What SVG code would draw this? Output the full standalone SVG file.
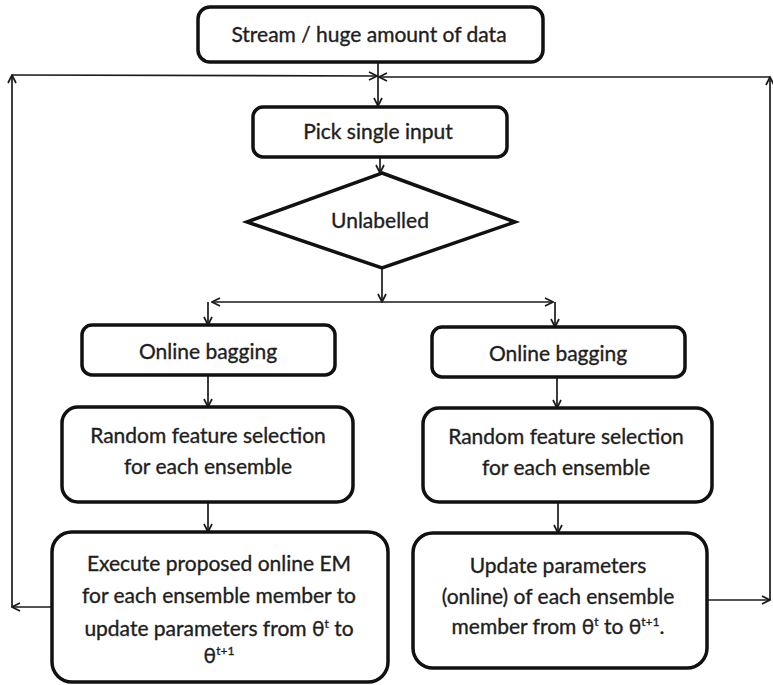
<svg xmlns="http://www.w3.org/2000/svg" width="773" height="685" viewBox="0 0 773 685">
  <style>
    .box { fill: #ffffff; stroke: #111111; stroke-width: 3.5; }
    .lbl { font-family: Lato, "Open Sans", sans-serif; font-size: 21px; fill: #1e1e1e; stroke: #1e1e1e; stroke-width: 0.35; text-anchor: middle; }
    .sup { font-size: 12px; }
    .wire { fill: none; stroke: #1a1a1a; stroke-width: 1.7; marker-end: url(#arrow); }
  </style>
  <defs>
    <marker id="arrow" viewBox="0 0 10 10" refX="9" refY="5" markerWidth="10" markerHeight="10" markerUnits="userSpaceOnUse" orient="auto">
      <path d="M1,1 L9,5 L1,9" fill="none" stroke="#1a1a1a" stroke-width="1.7"/>
    </marker>
  </defs>

  <rect width="773" height="685" fill="#ffffff"/>

  <g id="connectors">
    <!-- source to picker -->
    <line class="wire" x1="378" y1="62" x2="378" y2="106"/>
    <!-- left feedback loop -->
    <line class="wire" x1="52" y1="607" x2="12" y2="607"/>
    <line class="wire" x1="12" y1="607" x2="12" y2="75"/>
    <line class="wire" x1="12" y1="75" x2="377" y2="76"/>
    <!-- right feedback loop -->
    <line class="wire" x1="707" y1="600" x2="770" y2="600"/>
    <line class="wire" x1="770" y1="600" x2="770" y2="77"/>
    <line class="wire" x1="770" y1="77" x2="379" y2="77"/>
    <!-- picker to decision -->
    <line class="wire" x1="380" y1="143" x2="380" y2="173"/>
    <!-- decision to split -->
    <line class="wire" x1="382" y1="268" x2="382" y2="302"/>
    <line class="wire" x1="382" y1="302" x2="212" y2="302"/>
    <line class="wire" x1="382" y1="302" x2="553" y2="302"/>
    <line class="wire" x1="208" y1="302" x2="208" y2="325"/>
    <line class="wire" x1="555" y1="302" x2="555" y2="327"/>
    <!-- left branch -->
    <line class="wire" x1="208" y1="375" x2="208" y2="407"/>
    <line class="wire" x1="208" y1="502" x2="208" y2="532"/>
    <!-- right branch -->
    <line class="wire" x1="557" y1="377" x2="557" y2="408"/>
    <line class="wire" x1="558" y1="502" x2="558" y2="533"/>
  </g>

  <g id="stream">
    <rect class="box" x="198" y="7" width="345" height="55" rx="12"/>
    <text class="lbl" x="369" y="42">Stream / huge amount of data</text>
  </g>

  <g id="pick">
    <rect class="box" x="253" y="107" width="254" height="50" rx="10"/>
    <text class="lbl" x="378" y="139">Pick single input</text>
  </g>

  <g id="unlabelled">
    <polygon class="box" points="382,173 515,222 382,268 247,222" stroke-linejoin="miter"/>
    <text class="lbl" x="380" y="228">Unlabelled</text>
  </g>

  <g id="bagging-left">
    <rect class="box" x="82" y="325" width="253" height="50" rx="10"/>
    <text class="lbl" x="208" y="359">Online bagging</text>
  </g>

  <g id="bagging-right">
    <rect class="box" x="432" y="327" width="253" height="50" rx="10"/>
    <text class="lbl" x="558" y="361">Online bagging</text>
  </g>

  <g id="features-left">
    <rect class="box" x="62" y="407" width="291" height="95" rx="16"/>
    <text class="lbl" x="208" y="443">Random feature selection</text>
    <text class="lbl" x="208" y="474">for each ensemble</text>
  </g>

  <g id="features-right">
    <rect class="box" x="423" y="408" width="289" height="94" rx="16"/>
    <text class="lbl" x="566" y="444">Random feature selection</text>
    <text class="lbl" x="566" y="475">for each ensemble</text>
  </g>

  <g id="online-em">
    <rect class="box" x="52" y="532" width="336" height="150" rx="20"/>
    <text class="lbl" x="219" y="571">Execute proposed online EM</text>
    <text class="lbl" x="219" y="603">for each ensemble member to</text>
    <text class="lbl" x="219" y="636">update parameters from θ<tspan class="sup" dy="-8">t</tspan><tspan dy="8"> to</tspan></text>
    <text class="lbl" x="219" y="663">θ<tspan class="sup" dy="-8">t+1</tspan></text>
  </g>

  <g id="update-params">
    <rect class="box" x="413" y="533" width="294" height="135" rx="20"/>
    <text class="lbl" x="558" y="573">Update parameters</text>
    <text class="lbl" x="558" y="604">(online) of each ensemble</text>
    <text class="lbl" x="558" y="634">member from θ<tspan class="sup" dy="-8">t</tspan><tspan dy="8"> to θ</tspan><tspan class="sup" dy="-8">t+1</tspan><tspan dy="8">.</tspan></text>
  </g>
</svg>
